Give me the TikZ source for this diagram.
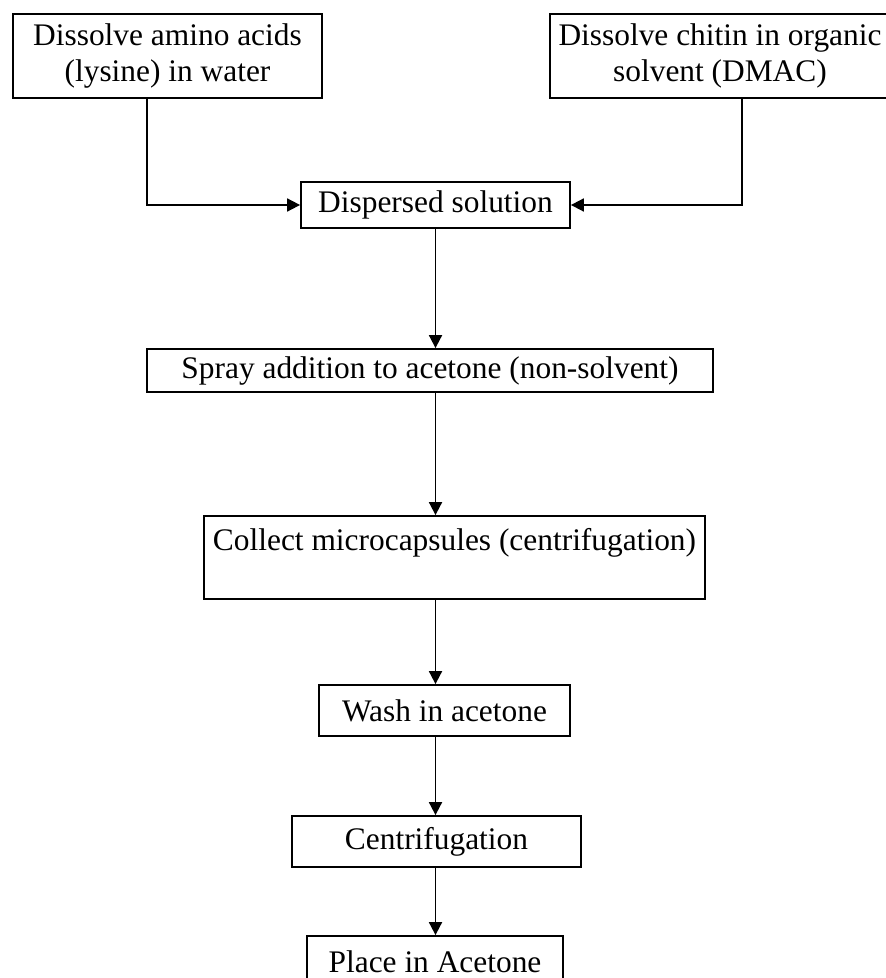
\documentclass[tikz,border=0pt]{standalone}
\usepackage{fontspec}
\setmainfont{Liberation Serif}
\usetikzlibrary{positioning,calc,arrows.meta}

\begin{document}
\begin{tikzpicture}[
    x=0.5pt, y=-0.5pt,
    font=\fontsize{15.7}{18.4}\selectfont, >={Triangle[length=6.5pt,width=6.5pt]},
    stage/.style={draw, line width=0.9pt, align=center, inner sep=0pt, minimum height=25.5pt},
    flow/.style={->, line width=0.9pt}
  ]
    \useasboundingbox (0,0) rectangle (885,978);

    % starting solutions
    \node[stage, minimum width=154.5pt, minimum height=42pt] (amino)  at (167.5,56) {Dissolve amino acids\\(lysine) in water};
    \node[stage, minimum width=170pt, minimum height=42pt]   (chitin) at (720,56)   {Dissolve chitin in organic\\solvent (DMAC)};

    % main line
    \node[stage, minimum width=134.5pt, minimum height=23pt]   (disp)    at (435.5,205)   {Dispersed solution};
    \node[stage, minimum width=283pt, minimum height=21.5pt]   (spray)   at (430,370.5)   {Spray addition to acetone (non-solvent)};
    \node[stage, minimum width=250.5pt, minimum height=41.5pt] (collect) at (454.5,557.5) {Collect microcapsules (centrifugation)\\\mbox{}};
    \node[stage, minimum width=125.5pt] (wash)    at (444.5,710.5) {Wash in acetone};
    \node[stage, minimum width=144.5pt] (centrif) at (436.5,841.5) {Centrifugation};
    \node[stage, minimum width=128pt]   (place)   at (435,961.5)   {Place in Acetone};

    % solutions -> dispersed solution
    \draw[flow] ([xshift=-10.25pt]amino.south) |- (disp.west);
    \draw[flow] ([xshift=11pt]chitin.south)    |- (disp.east);
    % downward steps
    \draw[flow] (disp.south) -- (disp.south |- spray.north);
    \draw[flow] (spray.south -| disp.south) -- (disp.south |- collect.north);
    \draw[flow] (collect.south -| disp.south) -- (disp.south |- wash.north);
    \draw[flow] (wash.south -| disp.south) -- (disp.south |- centrif.north);
    \draw[flow] (centrif.south -| disp.south) -- (disp.south |- place.north);
  \end{tikzpicture}
\end{document}
